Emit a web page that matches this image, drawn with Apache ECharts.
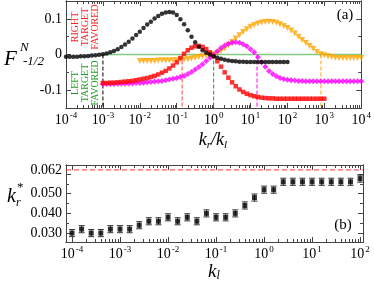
<!DOCTYPE html>
<html><head><meta charset="utf-8">
<script src="https://cdn.jsdelivr.net/npm/echarts@6/dist/echarts.min.js"></script>
<style>html,body{margin:0;padding:0;background:#fff}#c{width:374px;height:288px}</style>
</head><body><div id="c"></div>
<script>
// ---------- Panel (a): F^N_{-1/2} vs k_r/k_l (samples every 0.1 decade) ----------
const stepExpA = 0.1;
const blackStartExp = -4;
const blackF = [-0.006,-0.006,-0.006,-0.006,-0.005,-0.005,-0.004,-0.003,-0.002,-0.001,
  0.001,0.003,0.006,0.010,0.015,0.021,0.028,0.036,0.045,0.055,
  0.064,0.074,0.084,0.092,0.101,0.108,0.114,0.118,0.119,0.118,
  0.111,0.099,0.085,0.068,0.050,0.034,0.022,0.012,0.005,0.000,
  -0.005,-0.009,-0.012,-0.015,-0.017,-0.018,-0.019,-0.020,-0.020,-0.021,
  -0.021,-0.021,-0.021,-0.021,-0.021,-0.021,-0.021,-0.021,-0.021,-0.021,-0.021];
const redStartExp = -3;
const redF = [-0.080,-0.080,-0.079,-0.079,-0.078,-0.077,-0.076,-0.075,-0.074,-0.072,
  -0.070,-0.068,-0.066,-0.063,-0.060,-0.056,-0.051,-0.046,-0.039,-0.031,
  -0.022,-0.010,0.002,0.012,0.019,0.023,0.024,0.021,0.015,0.006,
  -0.005,-0.019,-0.034,-0.050,-0.065,-0.078,-0.089,-0.098,-0.105,-0.110,
  -0.114,-0.117,-0.119,-0.121,-0.122,-0.123,-0.123,-0.124,-0.124,-0.124,
  -0.124,-0.124,-0.124,-0.124,-0.124,-0.124,-0.124,-0.124,-0.124,-0.124,-0.124];
const magentaStartExp = -3;
const magentaF = [-0.083,-0.083,-0.083,-0.083,-0.082,-0.082,-0.082,-0.081,-0.081,-0.080,
  -0.080,-0.079,-0.078,-0.077,-0.076,-0.075,-0.074,-0.072,-0.070,-0.068,
  -0.066,-0.063,-0.060,-0.055,-0.049,-0.042,-0.035,-0.027,-0.018,-0.009,
  0.000,0.009,0.018,0.025,0.030,0.033,0.034,0.033,0.029,0.023,
  0.015,0.006,-0.008,-0.022,-0.034,-0.046,-0.055,-0.061,-0.066,-0.069,
  -0.071,-0.072,-0.073,-0.074,-0.074,-0.075,-0.075,-0.075,-0.075,-0.075,
  -0.075,-0.075,-0.075,-0.075,-0.075,-0.075,-0.075,-0.075,-0.075,-0.075,-0.075];
const orangeStartExp = -2;
const orangeF = [-0.018,-0.018,-0.018,-0.018,-0.018,-0.017,-0.017,-0.017,-0.017,-0.016,
  -0.016,-0.015,-0.014,-0.013,-0.011,-0.009,-0.007,-0.005,-0.003,-0.001,
  0.000,0.004,0.010,0.017,0.026,0.035,0.045,0.054,0.063,0.071,
  0.078,0.083,0.087,0.090,0.091,0.092,0.091,0.089,0.085,0.080,
  0.074,0.067,0.059,0.050,0.041,0.032,0.024,0.016,0.007,0.001,
  -0.002,-0.005,-0.007,-0.009,-0.010,-0.010,-0.010,-0.010,-0.010,-0.010,-0.010];
const zeroLineK = [1e-3, 1e4];
const crossK = [1e-3, 0.14, 1, 15, 810];
const xTicksA = [1e-4,1e-3,1e-2,1e-1,1e0,1e1,1e2,1e3,1e4];
const yLabelsA = [-0.1, 0, 0.1];
const yMinorA = [-0.05, 0.05];

// ---------- Panel (b): k_r* vs k_l (samples every 0.2 decade) ----------
const stepExpB = 0.2;
const klStartExp = -4;
const krStar = [0.030,0.032,0.030,0.030,0.032,0.032,0.032,0.034,0.036,0.036,
  0.038,0.036,0.038,0.036,0.040,0.038,0.038,0.040,0.044,0.048,
  0.052,0.052,0.056,0.056,0.056,0.056,0.056,0.056,0.056,0.056,0.0576];
const krErr = 0.0018;
const krLimit = 0.062;
const xTicksB = [1e-4,1e-3,1e-2,1e-1,1e0,1e1,1e2];
const yLabelsB = [0.030, 0.040, 0.050, 0.062];
const yTicksB = [0.030, 0.040, 0.050, 0.060];
const yMinorB = [0.035, 0.045, 0.055];

// ---------- build ----------
const FONT = 'Liberation Serif';
const AX = '#444';
function pts(startExp, step, vals){ return vals.map((v,i)=>[Math.pow(10, startExp + i*step), v]); }
function minorLog(majors){ const r=[]; for(let i=0;i<majors.length-1;i++){ for(let m=2;m<=9;m++) r.push(majors[i]*m);} return r; }
const supFmt = v => { const e = Math.round(Math.log10(v)); return '{b|10}{s|' + e + '}'; };
const richSup = { b:{fontFamily:FONT,fontSize:14,color:'#000',lineHeight:16,verticalAlign:'bottom'},
                  s:{fontFamily:FONT,fontSize:9,color:'#000',lineHeight:16,verticalAlign:'top',padding:[0,0,0,1]} };

function xSet(grid, min, max, majors){
  const base = {type:'log', logBase:10, gridIndex:grid, min:min, max:max, splitLine:{show:false},
    axisLine:{show:true, onZero:false, lineStyle:{color:AX, width:1}}};
  const minors = minorLog(majors).filter(v=>v>min && v<max);
  const lab = {show:true, customValues:majors, formatter:supFmt, rich:richSup, margin:3};
  return [
    Object.assign({}, base, {position:'bottom', axisTick:{show:true, inside:true, length:5, customValues:majors, lineStyle:{color:AX}}, axisLabel:lab}),
    Object.assign({}, base, {position:'bottom', axisTick:{show:true, inside:true, length:3, customValues:minors, lineStyle:{color:AX}}, axisLabel:{show:false}}),
    Object.assign({}, base, {position:'top', axisTick:{show:true, inside:true, length:5, customValues:majors, lineStyle:{color:AX}}, axisLabel:{show:false}}),
    Object.assign({}, base, {position:'top', axisTick:{show:true, inside:true, length:3, customValues:minors, lineStyle:{color:AX}}, axisLabel:{show:false}})
  ];
}
function ySet(grid, min, max, labels, majors, minors, fmt){
  const base = {type:'value', gridIndex:grid, min:min, max:max, splitLine:{show:false},
    axisLine:{show:true, onZero:false, lineStyle:{color:AX, width:1}}};
  return [
    Object.assign({}, base, {position:'left', axisTick:{show:true, inside:true, length:5, customValues:majors, lineStyle:{color:AX}},
      axisLabel:{show:true, customValues:labels, formatter:fmt, fontFamily:FONT, fontSize:14, color:'#000', margin:4}}),
    Object.assign({}, base, {position:'left', axisTick:{show:true, inside:true, length:3, customValues:minors, lineStyle:{color:AX}}, axisLabel:{show:false}}),
    Object.assign({}, base, {position:'right', axisTick:{show:true, inside:true, length:5, customValues:majors, lineStyle:{color:AX}}, axisLabel:{show:false}}),
    Object.assign({}, base, {position:'right', axisTick:{show:true, inside:true, length:3, customValues:minors, lineStyle:{color:AX}}, axisLabel:{show:false}})
  ];
}

const xMinB = 7.5e-5, xMaxB = 115, yMinB = 0.0255, yMaxB = 0.0645;
const yMinA = -0.15, yMaxA = 0.15;

const series = [];
series.push({type:'line', xAxisIndex:0, yAxisIndex:0, data:zeroLineK.map(k=>[k,0]), symbol:'none',
  lineStyle:{color:'#80cc80', width:1.5}, silent:true, z:1});
const dashColors = ['#000000','#ff4040','#20a020','#ff00ff','#ffa500'];
crossK.forEach((k,i)=>{
  series.push({type:'line', xAxisIndex:0, yAxisIndex:0, data:[[k,0],[k,yMinA]], symbol:'none',
    lineStyle:{color:dashColors[i], width:1, type:[4,2]}, silent:true, z:1});
});
series.push({type:'scatter', xAxisIndex:0, yAxisIndex:0, data:pts(orangeStartExp, stepExpA, orangeF),
  symbol:'triangle', symbolRotate:180, symbolSize:6, itemStyle:{color:'#ffa500'}, z:2});
series.push({type:'scatter', xAxisIndex:0, yAxisIndex:0, data:pts(magentaStartExp, stepExpA, magentaF),
  symbol:'diamond', symbolSize:6, itemStyle:{color:'#ff00ff'}, z:3});
series.push({type:'scatter', xAxisIndex:0, yAxisIndex:0, data:pts(redStartExp, stepExpA, redF),
  symbol:'rect', symbolSize:4.5, itemStyle:{color:'#ff0000'}, z:4});
series.push({type:'scatter', xAxisIndex:0, yAxisIndex:0, data:pts(blackStartExp, stepExpA, blackF),
  symbol:'circle', symbolSize:4.5, itemStyle:{color:'#000000'}, z:5});

// panel b
series.push({type:'line', xAxisIndex:4, yAxisIndex:4, data:[[xMinB,krLimit],[xMaxB,krLimit]], symbol:'none',
  lineStyle:{color:'#ff3030', width:1, type:[5,3]}, silent:true, z:1});
const bData = pts(klStartExp, stepExpB, krStar);
series.push({type:'custom', xAxisIndex:4, yAxisIndex:4, data:bData.map(p=>[p[0],p[1],krErr]), z:2,
  renderItem:(params, api)=>{
    const x = api.value(0), y = api.value(1), e = api.value(2);
    const t = api.coord([x, y+e]), b = api.coord([x, y-e]);
    const w = 3;
    const st = {stroke:'#333', lineWidth:1};
    return {type:'group', children:[
      {type:'line', shape:{x1:t[0],y1:t[1],x2:b[0],y2:b[1]}, style:st},
      {type:'line', shape:{x1:t[0]-w,y1:t[1],x2:t[0]+w,y2:t[1]}, style:st},
      {type:'line', shape:{x1:b[0]-w,y1:b[1],x2:b[0]+w,y2:b[1]}, style:st}
    ]};
  }});
series.push({type:'scatter', xAxisIndex:4, yAxisIndex:4, data:bData, symbol:'rect', symbolSize:5,
  itemStyle:{color:'#000'}, z:3});

const option = {
  animation:false,
  grid:[{left:66, top:1, width:297, height:107}, {left:66, top:165, width:297, height:77}],
  xAxis: xSet(0, 1e-4, 1e4, xTicksA).concat(xSet(1, xMinB, xMaxB, xTicksB)),
  yAxis: ySet(0, yMinA, yMaxA, yLabelsA, yLabelsA, yMinorA, v=> v===0 ? '0' : v.toFixed(1))
    .concat(ySet(1, yMinB, yMaxB, yLabelsB, yTicksB, yMinorB, v=> v.toFixed(3))),
  series: series,
  graphic: [
    {type:'text', x:85, y:27, rotation:Math.PI/2, style:{text:'RIGHT\nTARGET\nFAVORED', fill:'#ff2020',
      font:'10px "Liberation Serif"', align:'center', verticalAlign:'middle', lineHeight:10}},
    {type:'text', x:85, y:83, rotation:Math.PI/2, style:{text:'LEFT\nTARGET\nFAVORED', fill:'#20a020',
      font:'10px "Liberation Serif"', align:'center', verticalAlign:'middle', lineHeight:10}},
    {type:'text', x:345, y:15, style:{text:'(a)', fill:'#000', font:'15px "Liberation Serif"', align:'center', verticalAlign:'middle'}},
    {type:'text', x:343, y:225, style:{text:'(b)', fill:'#000', font:'15px "Liberation Serif"', align:'center', verticalAlign:'middle'}},
    // y title (a)
    {type:'text', x:4, y:59, style:{text:'F', fill:'#000', font:'italic 21px "Liberation Serif"', align:'left', verticalAlign:'middle'}},
    {type:'text', x:20, y:48, style:{text:'N', fill:'#000', font:'italic 13px "Liberation Serif"', align:'left', verticalAlign:'middle'}},
    {type:'text', x:23, y:62, style:{text:'-1/2', fill:'#000', font:'italic 13px "Liberation Serif"', align:'left', verticalAlign:'middle'}},
    // x title (a)
    {type:'text', x:213, y:141, style:{text:'{k|k}{s|r}{k|/k}{s|l}', align:'center', verticalAlign:'middle',
      rich:{k:{fontFamily:FONT, fontStyle:'italic', fontSize:18, lineHeight:20, verticalAlign:'top'},
            s:{fontFamily:FONT, fontStyle:'italic', fontSize:11, lineHeight:20, verticalAlign:'bottom'}}}},
    // y title (b)
    {type:'text', x:7, y:197, style:{text:'k', fill:'#000', font:'italic 20px "Liberation Serif"', align:'left', verticalAlign:'middle'}},
    {type:'text', x:17, y:188, style:{text:'*', fill:'#000', font:'13px "Liberation Serif"', align:'left', verticalAlign:'middle'}},
    {type:'text', x:16, y:203, style:{text:'r', fill:'#000', font:'italic 12px "Liberation Serif"', align:'left', verticalAlign:'middle'}},
    // x title (b)
    {type:'text', x:214, y:272, style:{text:'{k|k}{s|l}', align:'center', verticalAlign:'middle',
      rich:{k:{fontFamily:FONT, fontStyle:'italic', fontSize:19, lineHeight:20, verticalAlign:'top'},
            s:{fontFamily:FONT, fontStyle:'italic', fontSize:12, lineHeight:20, verticalAlign:'bottom'}}}}
  ]
};
const chart = echarts.init(document.getElementById('c'), null, {renderer:'canvas'});
chart.setOption(option);
</script>
</body></html>
